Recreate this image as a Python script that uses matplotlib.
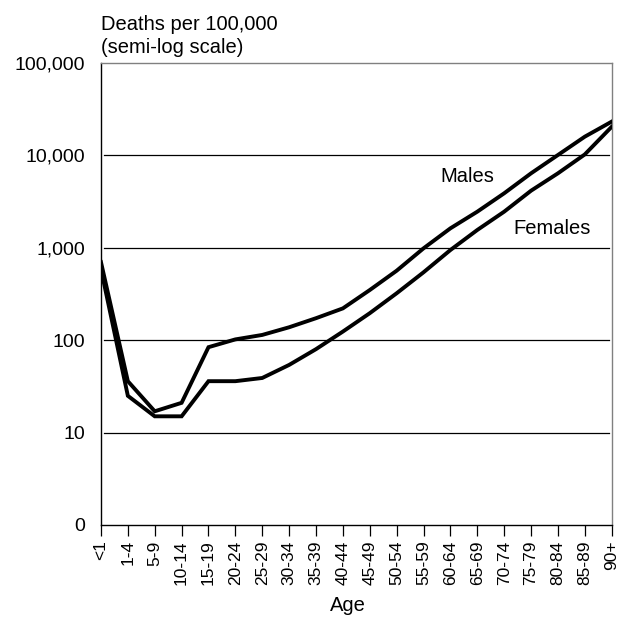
import matplotlib

matplotlib.use("Agg")
import matplotlib.pyplot as plt
import numpy as np

plt.rcParams["font.family"] = ["Liberation Sans", "DejaVu Sans"]

# age groups and death rates per 100,000
ages = ["<1", "1-4", "5-9", "10-14", "15-19", "20-24", "25-29", "30-34",
        "35-39", "40-44", "45-49", "50-54", "55-59", "60-64", "65-69",
        "70-74", "75-79", "80-84", "85-89", "90+"]
males = [700, 36, 17, 21, 84, 102, 114, 138, 173, 221, 349, 565, 987,
         1625, 2460, 3890, 6400, 10100, 15950, 23200]
females = [590, 25, 15, 15, 36, 36, 39, 54, 80, 124, 196, 322, 543,
           946, 1559, 2460, 4150, 6400, 10250, 20400]

y_ticks = [1, 10, 100, 1000, 10000, 100000]
y_labels = ["0", "10", "100", "1,000", "10,000", "100,000"]

fig = plt.figure(figsize=(6.21, 6.19), dpi=100)
ax = fig.add_axes([0.1626, 0.1519, 0.8224, 0.7463])

x = np.arange(len(ages))
ax.set_yscale("log")
ax.set_ylim(1, 100000)
ax.set_xlim(0, len(ages) - 1)

for t in y_ticks[1:-1]:
    ax.axhline(t, xmin=0.006, xmax=0.994, color="black", lw=0.9, zorder=1)

ax.plot(x, males, color="black", lw=2.8, solid_joinstyle="miter", zorder=3)
ax.plot(x, females, color="black", lw=2.8, solid_joinstyle="miter", zorder=3)

ax.text(12.63, 5840, "Males", fontsize=14.5, va="center", ha="left")
ax.text(15.35, 1637, "Females", fontsize=14.5, va="center", ha="left")

ax.set_yticks(y_ticks)
ax.set_yticklabels(y_labels)
ax.yaxis.set_minor_locator(matplotlib.ticker.NullLocator())
ax.tick_params(axis="y", length=0, pad=11.5, labelsize=14)

ax.set_xticks(x)
ax.set_xticklabels(ages, rotation=90)
ax.tick_params(axis="x", length=8, width=0.9, pad=3, labelsize=12.5)

for side in ["left", "bottom"]:
    ax.spines[side].set_color("black")
    ax.spines[side].set_linewidth(1.0)
for side in ["top", "right"]:
    ax.spines[side].set_color("#808080")
    ax.spines[side].set_linewidth(1.0)

ax.text(0.0, 1.012, "Deaths per 100,000\n(semi-log scale)", transform=ax.transAxes,
        fontsize=14.5, ha="left", va="bottom", linespacing=1.3)
fig.text(0.561, 0.006, "Age", fontsize=14.5, ha="center", va="bottom")

fig.savefig("out.png", dpi=100)
